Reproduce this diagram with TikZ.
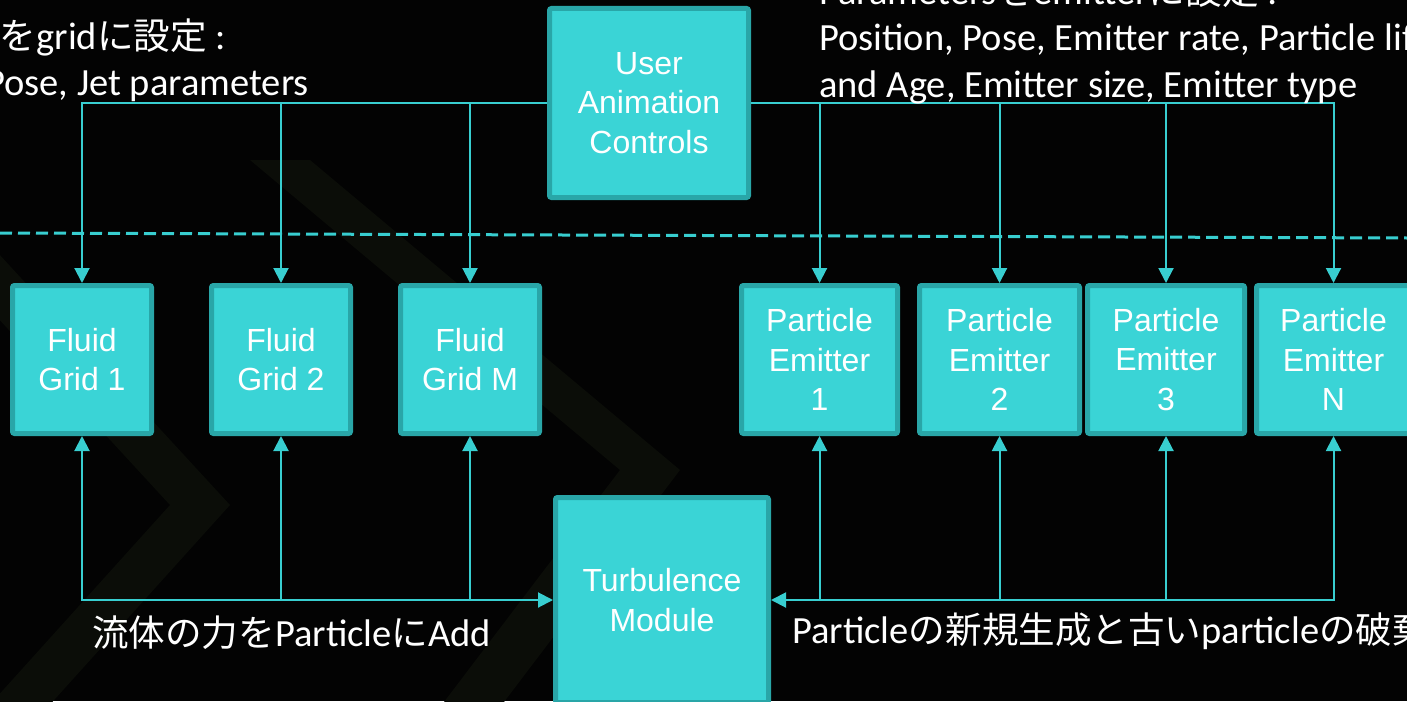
\documentclass[tikz,border=0pt]{standalone}
\usepackage{fontspec}
\setmainfont{Carlito}
\newfontfamily\boxfont{Liberation Sans}
\newfontfamily\jp[Scale=0.95]{Noto Sans CJK JP}
\usetikzlibrary{arrows.meta}

\definecolor{bg}{HTML}{030303}
\definecolor{tealfill}{HTML}{3AD4D6}
\definecolor{tealedge}{HTML}{29A6A8}
\definecolor{wirecol}{HTML}{38CED0}
\definecolor{chevroncol}{HTML}{0B0D08}

\begin{document}
\begin{tikzpicture}[x=1pt,y=-1pt,
  block/.style={draw=tealedge, fill=tealfill, line width=5pt, rounded corners=2pt,
    inner sep=0pt, text=white, align=center,
    font=\boxfont\fontsize{32}{39.5}\selectfont},
  wire/.style={draw=wirecol, line width=2pt},
  tip/.style={-{Triangle[width=15pt,length=15pt]}},
  tips/.style={{Triangle[width=15pt,length=15pt]}-{Triangle[width=15pt,length=15pt]}},
  note/.style={inner sep=0pt, text=white, font=\fontsize{38.5}{46}\selectfont},
]
% canvas
\clip (0,0) rectangle (1407,701);
\fill[bg] (0,0) rectangle (1407,701);

% faint chevrons in the backdrop
\fill[chevroncol] (-120,190) -- (-60,190) -- (230,505) -- (0,760) -- (-60,760) -- (170,505) -- cycle;
\fill[chevroncol] (250,160) -- (310,160) -- (680,470) -- (460,760) -- (400,760) -- (620,470) -- cycle;

% blocks
\node[block, minimum width=199pt, minimum height=189pt] (user) at (649,103) {User\\Animation\\Controls};

\node[block, minimum width=139pt, minimum height=148pt] (fg1) at (82,359.5)  {Fluid\\Grid 1};
\node[block, minimum width=139pt, minimum height=148pt] (fg2) at (281,359.5) {Fluid\\Grid 2};
\node[block, minimum width=139pt, minimum height=148pt] (fgM) at (470,359.5) {Fluid\\Grid M};

\node[block, minimum width=156pt, minimum height=148pt] (pe1) at (819.5,359.5) {Particle\\Emitter\\1};
\node[block, minimum width=160pt, minimum height=148pt] (pe2) at (999.5,359.5) {Particle\\Emitter\\2};
\node[block, minimum width=157pt, minimum height=148pt] (pe3) at (1166,359.5)  {Particle\\Emitter\\3};
\node[block, minimum width=154pt, minimum height=148pt] (peN) at (1333.5,359.5) {Particle\\Emitter\\N};

\node[block, minimum width=213pt, minimum height=205pt] (turb) at (662,600) {Turbulence\\Module};

% separator
\coordinate (sepL) at (0,233);
\coordinate (sepR) at (1407,238);
\draw[wirecol, line width=3pt, dash pattern=on 12pt off 6pt] (sepL) -- (sepR);

% controls -> fluid grids
\draw[wire, tip] (user.west) -| (fg1.north);
\draw[wire, tip] (user.west -| fg2.north) -- (fg2.north);
\draw[wire, tip] (user.west -| fgM.north) -- (fgM.north);

% controls -> emitters
\draw[wire, tip] (user.east) -| (peN.north);
\draw[wire, tip] (user.east -| pe1.north) -- (pe1.north);
\draw[wire, tip] (user.east -| pe2.north) -- (pe2.north);
\draw[wire, tip] (user.east -| pe3.north) -- (pe3.north);

% fluid grids <-> turbulence
\draw[wire, tips] (fg1.south) |- (turb.west);
\draw[wire, tip] (turb.west -| fg2.south) -- (fg2.south);
\draw[wire, tip] (turb.west -| fgM.south) -- (fgM.south);

% emitters <-> turbulence
\draw[wire, tips] (peN.south) |- (turb.east);
\draw[wire, tip] (turb.east -| pe1.south) -- (pe1.south);
\draw[wire, tip] (turb.east -| pe2.south) -- (pe2.south);
\draw[wire, tip] (turb.east -| pe3.south) -- (pe3.south);

% annotations
\node[note, anchor=base east] (gridA) at (226,50) {Parameters{\jp を}grid{\jp に設定} :};
\node[note, anchor=base east] (gridB) at (309,95) {Position, Pose, Jet parameters};

\node[note, anchor=base west] (emA) at (819,5)  {Parameters{\jp を}emitter{\jp に設定} :};
\node[note, anchor=base west] (emB) at (819,51) {Position, Pose, Emitter rate, Particle lifetime};
\node[note, anchor=base west] (emC) at (819,97) {and Age, Emitter size, Emitter type};

\node[note, anchor=base west] (addF) at (92,646) {{\jp 流体の力を}Particle{\jp に}Add};
\node[note, anchor=base west] (life) at (792,643) {Particle{\jp の新規生成と古い}particle{\jp の破棄}};
\end{tikzpicture}
\end{document}
